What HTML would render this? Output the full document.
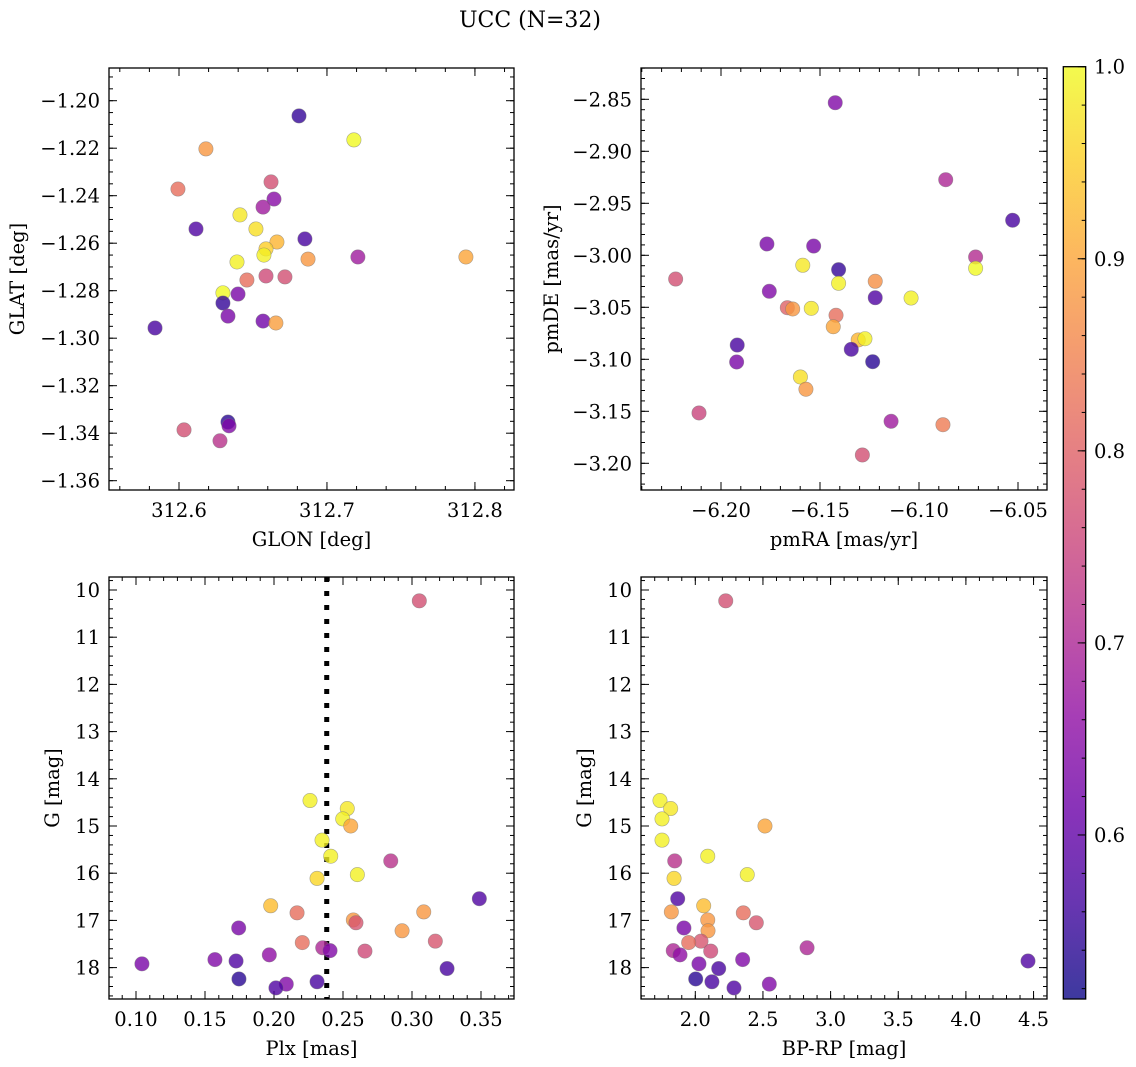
<!DOCTYPE html>
<html><head><meta charset="utf-8">
<style>
html,body{margin:0;padding:0;background:#fff;}
svg{display:block;font-family:"DejaVu Serif","Liberation Serif",serif;}
</style></head>
<body>
<svg id="fig" width="1136" height="1067" viewBox="0 0 1136 1067" xmlns="http://www.w3.org/2000/svg">
<rect width="1136" height="1067" fill="#fff"/>
<text x="530" y="27" font-size="22" text-anchor="middle">UCC (N=32)</text>
</svg>
<script>
// ---- data ----
const glon=[312.6811,312.7182,312.6182,312.5993,312.6622,312.6642,312.6568,312.6412,312.6115,312.6520,312.6851,312.6662,312.6588,312.6574,312.7209,312.7939,312.6872,312.6392,312.6459,312.6588,312.6716,312.6297,312.6399,312.6297,312.6331,312.6568,312.6655,312.5838,312.6331,312.6338,312.6034,312.6277];
const glat=[-1.2064,-1.2165,-1.2203,-1.2372,-1.2342,-1.2414,-1.2448,-1.2481,-1.2540,-1.2540,-1.2582,-1.2595,-1.2624,-1.2650,-1.2658,-1.2658,-1.2667,-1.2679,-1.2755,-1.2738,-1.2742,-1.2809,-1.2814,-1.2852,-1.2907,-1.2928,-1.2936,-1.2957,-1.3353,-1.3369,-1.3386,-1.3432];
const probA=[0.55,1.0,0.88,0.82,0.77,0.65,0.68,0.98,0.58,0.97,0.57,0.92,0.95,0.99,0.68,0.9,0.88,0.99,0.82,0.76,0.77,1.0,0.63,0.55,0.63,0.62,0.89,0.57,0.54,0.64,0.77,0.72];
const pmra=[-6.1423,-6.0865,-6.0527,-6.1768,-6.1532,-6.0714,-6.0714,-6.1587,-6.1406,-6.2229,-6.1406,-6.1221,-6.1756,-6.1221,-6.1040,-6.1665,-6.1638,-6.1544,-6.1419,-6.1433,-6.1307,-6.1273,-6.1918,-6.1342,-6.1921,-6.1234,-6.1599,-6.1571,-6.2111,-6.1141,-6.0879,-6.1286];
const pmde=[-2.8533,-2.9273,-2.9663,-2.9891,-2.9911,-3.0016,-3.0125,-3.0096,-3.0138,-3.0228,-3.0269,-3.0250,-3.0346,-3.0408,-3.0411,-3.0504,-3.0516,-3.0510,-3.0577,-3.0687,-3.0814,-3.0802,-3.0863,-3.0904,-3.1026,-3.1023,-3.1170,-3.1288,-3.1516,-3.1596,-3.1629,-3.1920];
const probB=[0.64,0.70,0.57,0.63,0.63,0.71,1.0,0.98,0.55,0.77,0.99,0.87,0.64,0.58,0.99,0.8,0.88,0.98,0.82,0.9,0.92,0.99,0.57,0.57,0.63,0.54,0.97,0.88,0.75,0.68,0.84,0.77];
const plx=[0.3053,0.2261,0.2531,0.2498,0.2556,0.2348,0.2411,0.2846,0.2604,0.2312,0.3488,0.1976,0.3085,0.2167,0.2575,0.2594,0.1744,0.2928,0.3169,0.2205,0.2353,0.2406,0.2659,0.1966,0.1043,0.1572,0.1725,0.3254,0.1746,0.2312,0.2089,0.2014];
const gmagC=[10.23,14.46,14.63,14.85,15.00,15.30,15.64,15.74,16.03,16.11,16.54,16.69,16.82,16.84,16.99,17.05,17.16,17.22,17.44,17.47,17.58,17.64,17.65,17.73,17.92,17.83,17.86,18.02,18.24,18.30,18.35,18.43];
const probC=[0.77,0.99,0.98,0.99,0.9,0.99,0.99,0.72,0.99,0.96,0.58,0.93,0.88,0.82,0.88,0.78,0.63,0.88,0.78,0.82,0.7,0.64,0.76,0.66,0.63,0.64,0.58,0.57,0.54,0.57,0.64,0.58];
const bprp=[2.225,1.739,1.818,1.754,2.515,1.754,2.092,1.848,2.384,1.843,1.870,2.062,1.823,2.355,2.092,2.451,1.916,2.094,2.042,1.951,2.826,1.837,2.114,1.887,2.027,2.350,4.459,2.173,2.003,2.123,2.547,2.286];
const gmagD=[10.23,14.46,14.63,14.85,15.00,15.30,15.64,15.74,16.03,16.11,16.54,16.69,16.82,16.84,16.99,17.05,17.16,17.22,17.44,17.47,17.58,17.64,17.65,17.73,17.92,17.83,17.86,18.02,18.24,18.30,18.35,18.43];
const probD=[0.77,0.99,0.98,0.99,0.9,0.99,0.99,0.72,0.99,0.96,0.58,0.93,0.88,0.82,0.88,0.78,0.63,0.88,0.78,0.82,0.7,0.7,0.76,0.66,0.63,0.64,0.58,0.57,0.54,0.57,0.64,0.58];
const plxLine=0.2382;
const cTicks=[0.6,0.7,0.8,0.9,1.0];
const xTicksA=[312.6,312.7,312.8];
const yTicksA=[-1.20,-1.22,-1.24,-1.26,-1.28,-1.30,-1.32,-1.34,-1.36];
const xTicksB=[-6.20,-6.15,-6.10,-6.05];
const yTicksB=[-2.85,-2.90,-2.95,-3.00,-3.05,-3.10,-3.15,-3.20];
const xTicksC=[0.10,0.15,0.20,0.25,0.30,0.35];
const xTicksD=[2.0,2.5,3.0,3.5,4.0,4.5];
const yTicksG=[10,11,12,13,14,15,16,17,18];

const NS="http://www.w3.org/2000/svg";
const svg=document.getElementById('fig');
const FS=19.5;
function mk(tag,attrs,parent){const e=document.createElementNS(NS,tag);for(const k in attrs)e.setAttribute(k,attrs[k]);(parent||svg).appendChild(e);return e;}
const stops=[[13,8,135],[65,4,157],[106,0,168],[143,13,164],[177,42,144],[204,71,120],[225,100,98],[242,132,75],[252,166,54],[252,206,37],[240,249,33]];
const cmin=0.5146,cmax=1.0;
function plasma(v){let t=(v-cmin)/(cmax-cmin);t=Math.max(0,Math.min(1,t));const p=t*10;const i=Math.min(9,Math.floor(p));const f=p-i;const a=stops[i],b=stops[i+1];return 'rgb('+[0,1,2].map(k=>Math.round(a[k]+(b[k]-a[k])*f)).join(',')+')';}
function fmt(v,d){const s=Math.abs(v).toFixed(d);return (v<0?'\u2212':'')+s;}

function panel(o){
  const g=mk('g',{});
  
  
  const sx=v=>o.x0+(v-o.xmin)/(o.xmax-o.xmin)*(o.x1-o.x0);
  const sy=v=>o.y0+(v-o.ymax)/(o.ymin-o.ymax)*(o.y1-o.y0);
  const tk=(x1,y1,x2,y2)=>mk('line',{x1,y1,x2,y2,stroke:'#000','stroke-width':1},g);
  const lo=Math.min(o.xmin,o.xmax),hi=Math.max(o.xmin,o.xmax);
  for(let v=Math.ceil(lo/o.xminor-1e-6)*o.xminor;v<=hi+1e-9;v+=o.xminor){const x=sx(v);tk(x,o.y1,x,o.y1-4);tk(x,o.y0,x,o.y0+4);}
  const ylo=Math.min(o.ymin,o.ymax),yhi=Math.max(o.ymin,o.ymax);
  for(let v=Math.ceil(ylo/o.yminor-1e-6)*o.yminor;v<=yhi+1e-9;v+=o.yminor){const y=sy(v);tk(o.x0,y,o.x0+4,y);tk(o.x1,y,o.x1-4,y);}
  o.xt.forEach(v=>{const x=sx(v);tk(x,o.y1,x,o.y1-8);tk(x,o.y0,x,o.y0+8);
    const t=mk('text',{x:x,y:o.y1+27,'font-size':FS,'text-anchor':'middle'},g);t.textContent=fmt(v,o.xd);
    
    });
  o.yt.forEach(v=>{const y=sy(v);tk(o.x0,y,o.x0+8,y);tk(o.x1,y,o.x1-8,y);
    const t=mk('text',{x:o.x0-9,y:y+7,'font-size':FS,'text-anchor':'end'},g);t.textContent=fmt(v,o.yd);
    
    });
  if(o.vline!==undefined){const x=sx(o.vline);const l=mk('line',{x1:x,y1:o.y0,x2:x,y2:o.y1,stroke:'#000','stroke-width':5,'stroke-dasharray':'5,9'},g);
    
    }
  o.xs.forEach((xv,i)=>{const c=mk('circle',{cx:sx(xv),cy:sy(o.ys[i]),r:7.2,fill:plasma(o.cs[i]),'fill-opacity':0.8,stroke:'#777','stroke-opacity':0.6,'stroke-width':0.6},g);
    
    });
  const fr=mk('rect',{x:o.x0,y:o.y0,width:o.x1-o.x0,height:o.y1-o.y0,fill:'none',stroke:'#000','stroke-width':1.3},g);
  
  
  const xl=mk('text',{x:(o.x0+o.x1)/2,y:o.y1+56,'font-size':FS,'text-anchor':'middle'},g);xl.textContent=o.xlab;
  
  
  const yx=o.ylx,yy=(o.y0+o.y1)/2;
  const yl=mk('text',{x:yx,y:yy,'font-size':FS,'text-anchor':'middle',transform:'rotate(-90 '+yx+' '+yy+')'},g);yl.textContent=o.ylab;
  
  
}
panel({name:'glon-glat-panel',x0:109,x1:514,y0:68,y1:490,xmin:312.5527,xmax:312.8264,ymin:-1.36392,ymax:-1.18623,xminor:0.02,yminor:0.005,xt:xTicksA,yt:yTicksA,xd:1,yd:2,xs:glon,ys:glat,cs:probA,xlab:'GLON [deg]',ylab:'GLAT [deg]',ylx:24});
panel({name:'pm-panel',x0:641,x1:1047,y0:68,y1:490,xmin:-6.2404,xmax:-6.03535,ymin:-3.22567,ymax:-2.8199,xminor:0.01,yminor:0.01,xt:xTicksB,yt:yTicksB,xd:2,yd:2,xs:pmra,ys:pmde,cs:probB,xlab:'pmRA [mas/yr]',ylab:'pmDE [mas/yr]',ylx:558});
panel({name:'plx-g-panel',x0:109,x1:514,y0:577,y1:999,xmin:0.08043,xmax:0.37391,ymin:18.665,ymax:9.7246,xminor:0.01,yminor:0.2,xt:xTicksC,yt:yTicksG,xd:2,yd:0,xs:plx,ys:gmagC,cs:probC,xlab:'Plx [mas]',ylab:'G [mag]',ylx:59,vline:plxLine});
panel({name:'cmd-panel',x0:641,x1:1047,y0:577,y1:999,xmin:1.5987,xmax:4.5994,ymin:18.665,ymax:9.7246,xminor:0.1,yminor:0.2,xt:xTicksD,yt:yTicksG,xd:1,yd:0,xs:bprp,ys:gmagD,cs:probD,xlab:'BP-RP [mag]',ylab:'G [mag]',ylx:591});

// colorbar
const cb=mk('g',{});


const cx0=1063.3,cx1=1085.7,cy0=66.7,cy1=999;
const defs=mk('defs',{},cb);
const lg=mk('linearGradient',{id:'cbg',x1:0,y1:1,x2:0,y2:0},defs);
for(let i=0;i<=20;i++){const v=cmin+(cmax-cmin)*i/20;mk('stop',{offset:(i/20),'stop-color':plasma(v)},lg);}
mk('rect',{x:cx0,y:cy0,width:cx1-cx0,height:cy1-cy0,fill:'url(#cbg)','fill-opacity':0.8},cb);
const cyv=v=>cy1-(v-cmin)/(cmax-cmin)*(cy1-cy0);
for(let v=0.52;v<=1.0001;v+=0.02){const y=cyv(v);mk('line',{x1:cx1,y1:y,x2:cx1-4,y2:y,stroke:'#000','stroke-width':1},cb);}
cTicks.forEach(v=>{const y=cyv(v);mk('line',{x1:cx1,y1:y,x2:cx1-8,y2:y,stroke:'#000','stroke-width':1},cb);
  const t=mk('text',{x:1094,y:y+7,'font-size':FS},cb);t.textContent=v.toFixed(1);
  
  });
mk('rect',{x:cx0,y:cy0,width:cx1-cx0,height:cy1-cy0,fill:'none',stroke:'#000','stroke-width':1.3},cb);
</script>
</body></html>
